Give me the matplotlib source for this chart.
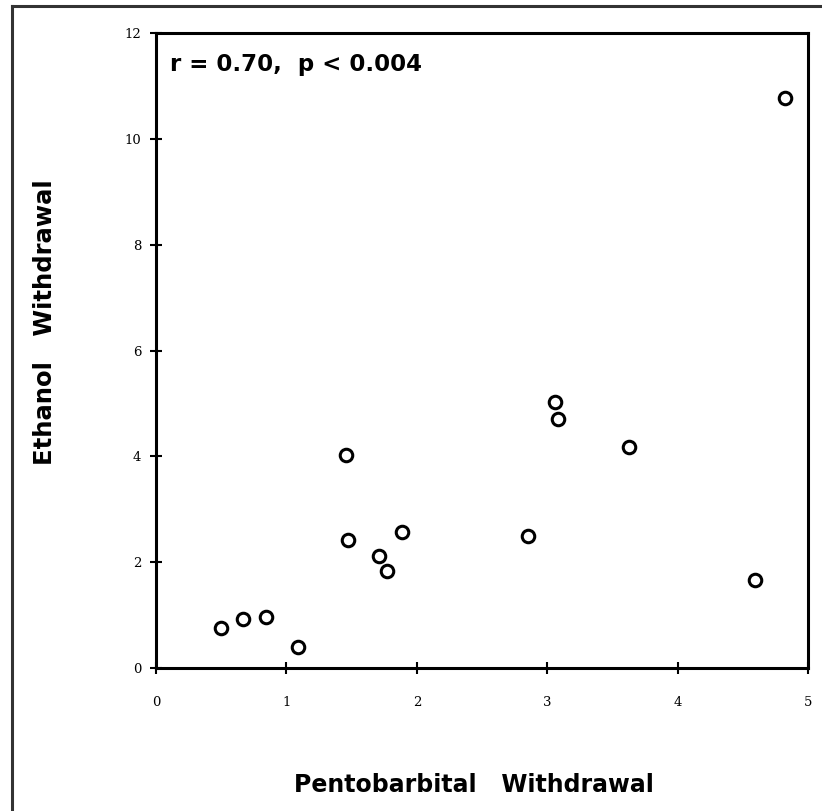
import matplotlib
matplotlib.use("Agg")
import matplotlib.pyplot as plt
from matplotlib.lines import Line2D

# values
pentobarbital = [0.50, 0.67, 0.84, 1.09, 1.46, 1.47, 1.71, 1.77, 1.89,
                 2.85, 3.06, 3.08, 3.63, 4.59, 4.82]
ethanol = [0.76, 0.92, 0.97, 0.40, 4.03, 2.42, 2.12, 1.84, 2.57,
           2.50, 5.02, 4.70, 4.18, 1.66, 10.78]
x_ticks = [0, 1, 2, 3, 4, 5]
y_ticks = [0, 2, 4, 6, 8, 10, 12]

fig = plt.figure(figsize=(8.22, 8.11), dpi=100)
ax = fig.add_axes([0.1898, 0.1763, 0.7932, 0.783])

ax.plot(pentobarbital, ethanol, linestyle='none', marker='o', markersize=9,
        markerfacecolor='white', markeredgecolor='black', markeredgewidth=2.2)

ax.set_xlim(0, 5)
ax.set_ylim(0, 12)
ax.set_xticks(x_ticks)
ax.set_yticks(y_ticks)
ax.tick_params(direction='inout', length=9, width=1.5, labelsize=9.5)
ax.tick_params(axis='x', pad=16)
ax.tick_params(axis='y', pad=6)
for lab in ax.get_xticklabels() + ax.get_yticklabels():
    lab.set_family('DejaVu Serif')
for s in ax.spines.values():
    s.set_linewidth(2.2)

ax.text(0.022, 0.968, 'r = 0.70,  p < 0.004', transform=ax.transAxes,
        ha='left', va='top', fontsize=16.5, fontweight='bold')

fig.text(474 / 822, 1 - 785 / 811, 'Pentobarbital   Withdrawal',
         ha='center', va='center', fontsize=17, fontweight='bold')
fig.text(45 / 822, 1 - 322 / 811, 'Ethanol   Withdrawal', rotation=90,
         ha='center', va='center', fontsize=17.5, fontweight='bold')

# border of the scanned page
fig.add_artist(Line2D([12 / 822, 1], [1 - 6 / 811, 1 - 6 / 811],
                      transform=fig.transFigure, color='#333333', lw=2.2))
fig.add_artist(Line2D([12 / 822, 12 / 822], [0, 1 - 6 / 811],
                      transform=fig.transFigure, color='#333333', lw=2.2))

fig.savefig('out.png', dpi=100)
